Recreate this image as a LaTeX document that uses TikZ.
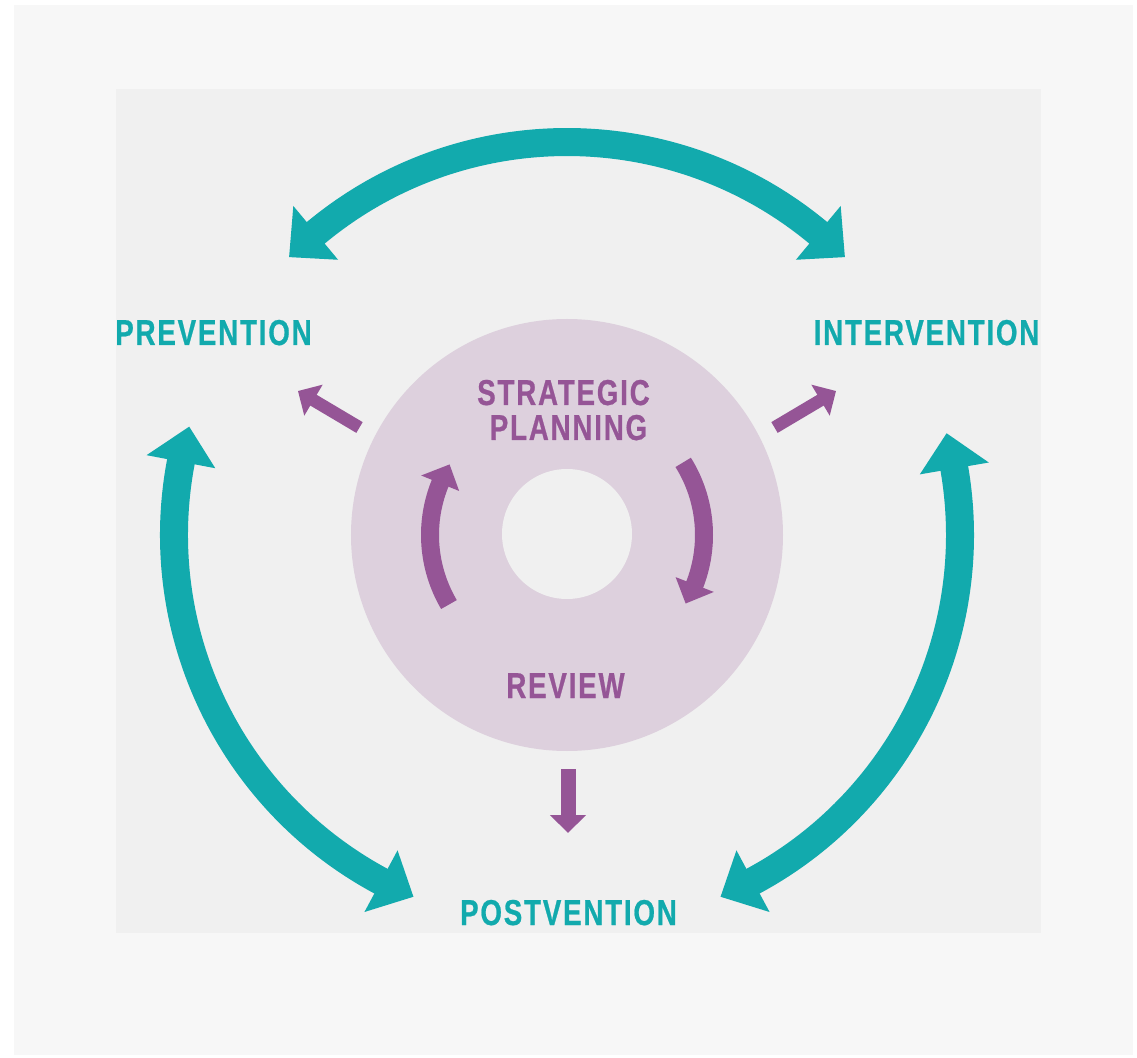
\documentclass[tikz,border=0pt]{standalone}
\usepackage{fontspec}
\newfontfamily\labelfont[FakeStretch=0.77,LetterSpace=5,FakeBold=0.6]{Liberation Sans}
\usetikzlibrary{arrows.meta}

\definecolor{tealc}{HTML}{12AAAD}
\definecolor{plum}{HTML}{955596}
\definecolor{lilac}{HTML}{DDD0DD}
\definecolor{pagegray}{HTML}{F7F7F7}
\definecolor{panelgray}{HTML}{F0F0F0}

\tikzset{
  cycleshaft/.style={draw=tealc, line width=28pt},
  cyclehead/.style={fill=tealc},
  loopshaft/.style={draw=plum, line width=18pt},
  loophead/.style={fill=plum},
  feedarrow/.style={draw=plum, line width=12.5pt,
    -{Triangle[width=35pt,length=18pt]}},
  phase/.style={font=\labelfont\bfseries\fontsize{36}{36}\selectfont,
    text=tealc, inner sep=0pt, anchor=base},
  core/.style={font=\labelfont\bfseries\fontsize{36}{36}\selectfont,
    text=plum, inner sep=0pt, anchor=base},
}

% head of a curved arrow on a circle about the origin:
% #1 style, #2 tip angle, #3 base angle, #4 radius, #5 half width
\newcommand\ringhead[5]{%
  \path[#1] (#2:#4) -- (#3:{#4-#5}) -- (#3:{#4+#5}) -- cycle;}

\begin{document}
\begin{tikzpicture}[x=1pt,y=1pt]
  \useasboundingbox (-567,-522) rectangle (570,535);
  \fill[white] (-567,-522) rectangle (570,535);
  % page and panel backgrounds
  \fill[pagegray] (-553,-520) rectangle (566,530);
  \fill[panelgray] (-451,-398) rectangle (474,446);

  % central planning disc with its hollow core
  \node[circle, fill=lilac, minimum size=432pt, inner sep=0pt] (hub) at (0,0) {};
  \node[circle, fill=panelgray, minimum size=130pt, inner sep=0pt] (hole) at (0,1) {};

  % phase labels
  \node[phase] (prev) at (-353.5,190) {PREVENTION};
  \node[phase] (inter) at (359.5,190) {INTERVENTION};
  \node[phase] (post) at (1.5,-390) {POSTVENTION};

  % labels inside the disc
  \node[core] (strat) at (-3.5,130) {STRATEGIC};
  \node[core] (plan) at (1.5,95) {PLANNING};
  \node[core] (review) at (-1.5,-163) {REVIEW};

  % outer cycle, radius 393: prevention <-> intervention
  \coordinate (topR) at (49.5:393);
  \draw[cycleshaft] (topR) arc[start angle=49.5, end angle=130.5, radius=393];
  \ringhead{cyclehead}{45}{50.25}{393}{35}
  \ringhead{cyclehead}{135}{129.75}{393}{35}

  % prevention <-> postvention
  \coordinate (leftB) at (242.5:393);
  \draw[cycleshaft] (leftB) arc[start angle=242.5, end angle=168.5, radius=393];
  \ringhead{cyclehead}{247}{241.75}{393}{35}
  \ringhead{cyclehead}{164}{169.25}{393}{35}

  % intervention <-> postvention
  \coordinate (rightT) at (10.5:393);
  \draw[cycleshaft] (rightT) arc[start angle=10.5, end angle=-62.5, radius=393];
  \ringhead{cyclehead}{15}{9.75}{393}{35}
  \ringhead{cyclehead}{-67}{-61.75}{393}{35}

  % inner review loop, radius 137
  \coordinate (loopL) at (210.5:137);
  \draw[loopshaft] (loopL) arc[start angle=210.5, end angle=157, radius=137];
  \ringhead{loophead}{149}{157.8}{137}{20.5}
  \coordinate (loopR) at (32:137);
  \draw[loopshaft] (loopR) arc[start angle=32, end angle=-22, radius=137];
  \ringhead{loophead}{-30}{-21.2}{137}{20.5}

  % feeds from the disc to each phase
  \coordinate (feedL) at (-207.5,107.5);
  \coordinate (feedR) at (207.5,107.5);
  \coordinate (feedB) at (1,-234);
  \coordinate (tipL) at (-269,144);
  \coordinate (tipR) at (269,144);
  \coordinate (tipB) at (1,-298);
  \draw[feedarrow] (feedL) -- (tipL);
  \draw[feedarrow] (feedR) -- (tipR);
  \draw[feedarrow, line width=15pt] (feedB) -- (tipB);
\end{tikzpicture}
\end{document}
